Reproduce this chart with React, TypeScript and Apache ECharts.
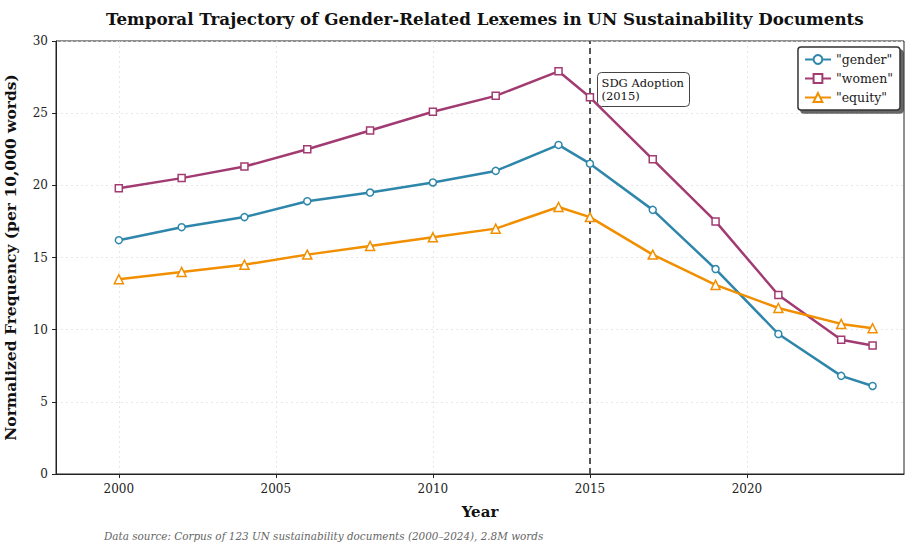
import React, { useEffect, useRef } from "react";
import * as echarts from "echarts";

const years = [2000, 2002, 2004, 2006, 2008, 2010, 2012, 2014, 2015, 2017, 2019, 2021, 2023, 2024];
const gender = [16.2, 17.1, 17.8, 18.9, 19.5, 20.2, 21.0, 22.8, 21.5, 18.3, 14.2, 9.7, 6.8, 6.1];
const women = [19.8, 20.5, 21.3, 22.5, 23.8, 25.1, 26.2, 27.9, 26.1, 21.8, 17.5, 12.4, 9.3, 8.9];
const equity = [13.5, 14.0, 14.5, 15.2, 15.8, 16.4, 17.0, 18.5, 17.8, 15.2, 13.1, 11.5, 10.4, 10.1];
const xTicks = [2000, 2005, 2010, 2015, 2020];
const seriesNames = ['"gender"', '"women"', '"equity"'];
const colors = ["#2E86AB", "#A23B72", "#F18F01"];
const symbols = ["circle", "rect", "triangle"];
const sdgYear = 2015;

const FONT = "DejaVu Serif";

export default function App() {
  const ref = useRef<HTMLDivElement>(null);
  useEffect(() => {
    document.body.style.margin = "0";
    const chart = echarts.init(ref.current!, null, { renderer: "svg" });
    const all = [gender, women, equity];
    chart.setOption({
      animation: false,
      backgroundColor: "#fff",
      textStyle: { fontFamily: FONT },
      title: {
        text: "Temporal Trajectory of Gender-Related Lexemes in UN Sustainability Documents",
        left: 101,
        top: 5,
        textStyle: { fontFamily: FONT, fontSize: 16.7, fontWeight: "bold", color: "#111" },
      },
      grid: {
        left: 56,
        right: 1,
        top: 41,
        bottom: 71,
        show: true,
        borderColor: "#222",
        borderWidth: 1,
        outerBoundsMode: "none",
        containLabel: false,
      },
      legend: {
        right: 5,
        top: 47,
        orient: "vertical",
        data: seriesNames,
        backgroundColor: "#fff",
        borderColor: "#333",
        borderWidth: 1.5,
        borderRadius: 3,
        padding: [6, 7, 6, 6],
        itemGap: 6,
        itemWidth: 26,
        itemHeight: 11,
        shadowColor: "rgba(0,0,0,0.6)",
        shadowOffsetX: 3,
        shadowOffsetY: 3,
        shadowBlur: 0,
        textStyle: { fontFamily: FONT, fontSize: 12.5, color: "#222" },
      },
      xAxis: {
        type: "value",
        min: 1998,
        max: 2025,
        name: "Year",
        nameLocation: "middle",
        nameGap: 30,
        nameTextStyle: { fontFamily: FONT, fontSize: 15, fontWeight: "bold", color: "#111" },
        axisLine: { lineStyle: { color: "#222", width: 1 } },
        axisTick: { show: true, customValues: xTicks, length: 4, lineStyle: { color: "#222" } },
        axisLabel: {
          customValues: xTicks,
          fontFamily: FONT,
          fontSize: 12,
          color: "#222",
          margin: 9,
          formatter: (v: number) => String(v),
        },
        splitLine: { show: true, lineStyle: { color: "#e2e2e2", type: [2, 3], width: 0.8 } },
      },
      yAxis: {
        type: "value",
        min: 0,
        max: 30,
        interval: 5,
        name: "Normalized Frequency (per 10,000 words)",
        nameLocation: "middle",
        nameGap: 38,
        nameTextStyle: { fontFamily: FONT, fontSize: 15.5, fontWeight: "bold", color: "#111" },
        axisLine: { show: true, lineStyle: { color: "#222", width: 1 } },
        axisTick: { show: true, length: 4, lineStyle: { color: "#222" } },
        axisLabel: { fontFamily: FONT, fontSize: 12, color: "#222", margin: 8 },
        splitLine: { show: true, lineStyle: { color: "#e2e2e2", type: [2, 3], width: 0.8 } },
      },
      series: all.map((vals, i) => ({
        name: seriesNames[i],
        type: "line",
        data: years.map((y, j) => [y, vals[j]]),
        symbol: symbols[i],
        symbolSize: i === 2 ? 9 : 7,
        showAllSymbol: true,
        lineStyle: { color: colors[i], width: 2.5 },
        itemStyle: { color: "#fff", borderColor: colors[i], borderWidth: 1.5 },
        z: 3 + i,
        markLine:
          i === 0
            ? {
                silent: true,
                symbol: "none",
                label: { show: false },
                lineStyle: { color: "#555", type: [6, 4], width: 2 },
                data: [{ xAxis: sdgYear }],
                z: 2,
              }
            : undefined,
      })),
      graphic: [
        {
          type: "group",
          left: 597,
          top: 72,
          children: [
            {
              type: "rect",
              shape: { x: 0, y: 0, width: 92, height: 34, r: 4 },
              style: { fill: "#fff", stroke: "#444", lineWidth: 1 },
            },
            {
              type: "text",
              x: 4,
              y: 4,
              style: { text: "SDG Adoption\n(2015)", font: `11.5px "${FONT}"`, fill: "#111", lineHeight: 13 },
            },
          ],
        },
        {
          type: "text",
          left: 104,
          top: 531,
          style: {
            text: "Data source: Corpus of 123 UN sustainability documents (2000–2024), 2.8M words",
            font: `italic 10.4px "${FONT}"`,
            fill: "#666",
          },
        },
      ],
    });
    return () => chart.dispose();
  }, []);
  return <div ref={ref} style={{ width: 905, height: 545, position: "absolute", left: 0, top: 0 }} />;
}
